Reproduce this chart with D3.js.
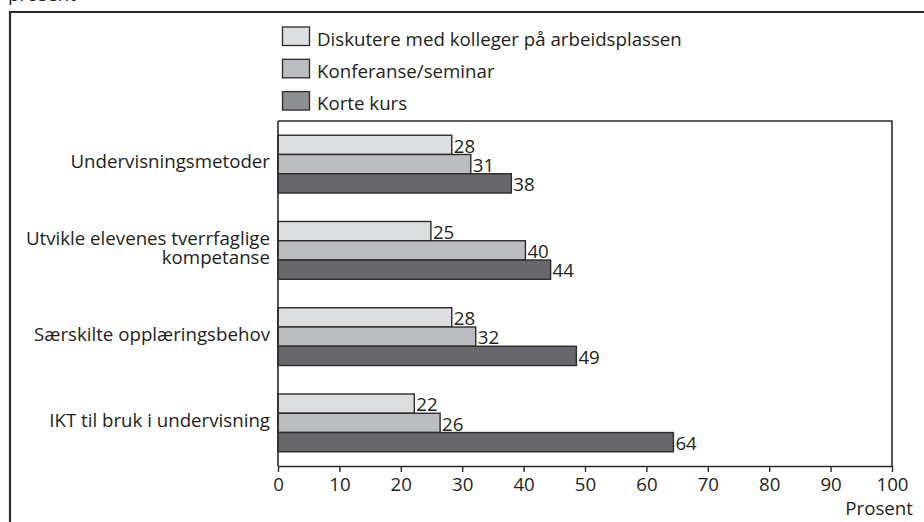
<!DOCTYPE html>
<html><head><meta charset="utf-8">
<script src="https://cdn.jsdelivr.net/npm/d3@7"></script>
<style>
html,body{margin:0;padding:0;background:#fff;}
text{font-family:"Open Sans",sans-serif;fill:#231f20;}
</style></head>
<body>
<svg id="c" width="924" height="522"></svg>
<script>
const categories = ["Undervisningsmetoder", "Utvikle elevenes tverrfaglige kompetanse", "Særskilte opplæringsbehov", "IKT til bruk i undervisning"];
const categoryLines = [["Undervisningsmetoder"], ["Utvikle elevenes tverrfaglige", "kompetanse"], ["Særskilte opplæringsbehov"], ["IKT til bruk i undervisning"]];
const seriesNames = ["Diskutere med kolleger på arbeidsplassen", "Konferanse/seminar", "Korte kurs"];
const diskutere = [28.3, 24.9, 28.3, 22.2];
const konferanse = [31.4, 40.3, 32.2, 26.4];
const korteKurs = [38.0, 44.4, 48.6, 64.4];
const xTicks = [0,10,20,30,40,50,60,70,80,90,100];
const axisTitle = "Prosent";
const topText = "prosent";

const barColors = ["#dcdddf", "#bbbcbf", "#68686c"];
const legendColors = ["#dcdddf", "#bbbcbf", "#8d8e91"];
const series = [diskutere, konferanse, korteKurs];

const svg = d3.select("#c");
const FS = 18.7;

// outer frame
svg.append("text").attr("x", 8).attr("y", 1).attr("font-size", FS).text(topText);
svg.append("path").attr("d", "M10,530 V12 H930").attr("fill","none").attr("stroke","#2b2b2b").attr("stroke-width",2.2);

const x = d3.scaleLinear().domain([0,100]).range([278, 892]);
const y = d3.scaleBand().domain(categories).range([121, 466]).paddingInner(0.33).paddingOuter(0.165);
const y1 = d3.scaleBand().domain(seriesNames).range([0, y.bandwidth()]);

// plot frame (top + right)
svg.append("path").attr("d", `M${x(0)},${y.range()[0]} H${x(100)} V${y.range()[1]}`)
  .attr("fill","none").attr("stroke","#2b2b2b").attr("stroke-width",1.6);

// bars
const g = svg.append("g");
categories.forEach((c, ci) => {
  seriesNames.forEach((s, si) => {
    const v = series[si][ci];
    g.append("rect")
      .attr("x", x(0)).attr("y", y(c) + y1(s))
      .attr("width", x(v) - x(0)).attr("height", y1.bandwidth())
      .attr("fill", barColors[si]).attr("stroke", "#2b2b2b").attr("stroke-width", 1.4);
    g.append("text")
      .attr("x", x(v) + 2).attr("y", y(c) + y1(s) + y1.bandwidth()/2 + 1)
      .attr("dy", "0.36em").attr("font-size", FS)
      .text(d3.format(".0f")(v));
  });
});

// category labels (one text element per category, lines as tspans)
categories.forEach((c, ci) => {
  const lines = categoryLines[ci];
  const cy = y(c) + y.bandwidth()/2 - 2.5;
  const t = svg.append("text").attr("text-anchor","end").attr("font-size", FS);
  lines.forEach((ln, li) => {
    t.append("tspan")
      .attr("x", 270).attr("y", cy + (li - (lines.length-1)/2) * 19)
      .attr("dy", "0.36em")
      .text(ln);
  });
});

// axes
svg.append("line").attr("x1", x(0)).attr("x2", x(0))
  .attr("y1", y.range()[0]).attr("y2", y.range()[1]).attr("stroke","#2b2b2b").attr("stroke-width",1.6);
const xa = svg.append("g").attr("transform", `translate(0,${y.range()[1]})`)
  .call(d3.axisBottom(x).tickValues(xTicks).tickSize(6).tickPadding(5.5).tickSizeOuter(0));
xa.select(".domain").attr("stroke","#2b2b2b").attr("stroke-width",1.6);
xa.selectAll(".tick line").attr("stroke","#2b2b2b").attr("stroke-width",1.4);
xa.selectAll(".tick text").attr("font-size", FS).attr("font-family", "Open Sans").attr("fill","#231f20");
svg.append("text").attr("x", 913).attr("y", 515).attr("text-anchor","end").attr("font-size", FS).text(axisTitle);

// legend
const lg = svg.append("g");
seriesNames.forEach((s, si) => {
  const ly = 27 + si * 32.3;
  lg.append("rect").attr("x", 282.5).attr("y", ly).attr("width", 27).attr("height", 18.5)
    .attr("fill", legendColors[si]).attr("stroke","#2b2b2b").attr("stroke-width",1.3);
  lg.append("text").attr("x", 317).attr("y", ly + 12).attr("dy","0.36em").attr("font-size", FS).text(s);
});
</script>
</body></html>
